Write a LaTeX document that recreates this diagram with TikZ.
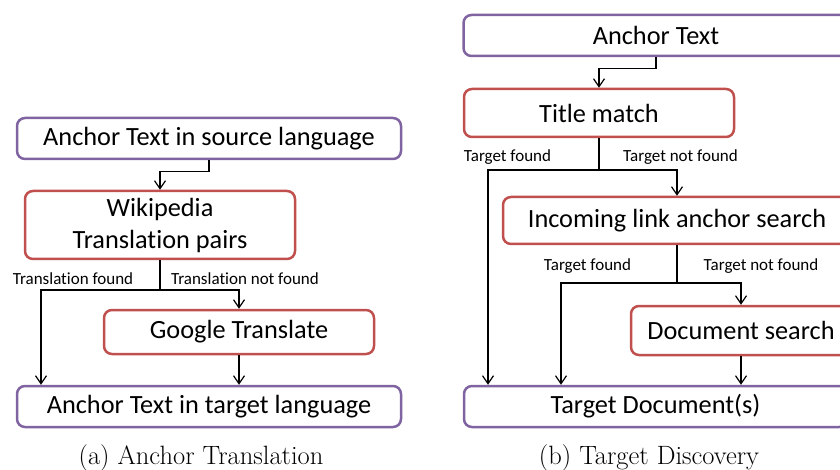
\documentclass[tikz,border=0pt]{standalone}
\usepackage{fontspec}
\newfontfamily\boxfont[Ligatures=NoCommon]{Carlito}
\usetikzlibrary{arrows.meta}
\definecolor{boxpurple}{HTML}{8064A2}
\definecolor{boxred}{HTML}{C0504D}
\begin{document}
\begin{tikzpicture}[x=1pt,y=-1pt,
  box/.style={draw, rounded corners=8pt, line width=2.5pt, inner sep=0pt,
    align=center, font=\boxfont\fontsize{26.3}{32}\selectfont},
  purplebox/.style={box, draw=boxpurple},
  redbox/.style={box, draw=boxred},
  lbl/.style={inner sep=0pt, font=\boxfont\fontsize{17}{20}\selectfont},
  captext/.style={inner sep=0pt, font=\fontsize{26.5}{30}\selectfont},
  link/.style={line width=1.2pt, -{Straight Barb[length=8pt,width=11pt]}},
  plain/.style={line width=1.2pt}]
\useasboundingbox (0,0) rectangle (840,470);
\clip (0,0) rectangle (840,470);

% ---- (a) anchor translation ----
\node[purplebox, minimum width=384pt, minimum height=41pt] (src) at (209,138.5) {Anchor Text in source language};
\node[redbox, minimum width=270pt, minimum height=68pt] (wiki) at (160,225) {Wikipedia\\Translation pairs};
\node[redbox, minimum width=270pt, minimum height=44pt] (goog) at (239,332) {Google Translate};
\node[purplebox, minimum width=384pt, minimum height=41pt] (tgt) at (209,406.5) {Anchor Text in target language};

\coordinate (splitA) at (160,290);
\coordinate (dropA) at (41,0);
\draw[link] (src.south) -- ++(0,11) -| (wiki.north);
\draw[plain] (wiki.south) -- (splitA);
\draw[link] (splitA) -| (tgt.north -| dropA);
\draw[link] (splitA) -| (goog.north);
\draw[link] (goog.south) -- (goog.south |- tgt.north);
\node[lbl] (fa) at (73,279) {Translation found};
\node[lbl] (nfa) at (245,279) {Translation not found};
\node[captext] (capa) at (201,458) {(a) Anchor Translation};

% ---- (b) target discovery ----
\node[purplebox, minimum width=385pt, minimum height=41pt] (anc) at (656,35.5) {Anchor Text};
\node[redbox, minimum width=270pt, minimum height=48pt] (title) at (599,113) {Title match};
\node[redbox, minimum width=348pt, minimum height=47pt] (inc) at (677,220.5) {Incoming link anchor search};
\node[redbox, minimum width=220pt, minimum height=49pt] (doc) at (741,330.5) {Document search};
\node[purplebox, minimum width=383pt, minimum height=41pt] (tdoc) at (655.5,406.5) {Target Document(s)};

\coordinate (splitB) at (599,170);
\coordinate (dropB) at (488,0);
\coordinate (splitC) at (677,283);
\coordinate (dropC) at (561,0);
\draw[link] (anc.south) -- ++(0,11) -| (title.north);
\draw[plain] (title.south) -- (splitB);
\draw[link] (splitB) -| (tdoc.north -| dropB);
\draw[link] (splitB) -| (inc.north);
\draw[plain] (inc.south) -- (splitC);
\draw[link] (splitC) -| (tdoc.north -| dropC);
\draw[link] (splitC) -| (doc.north);
\draw[link] (doc.south) -- (doc.south |- tdoc.north);
\node[lbl] (fb1) at (507.5,157) {Target found};
\node[lbl] (nfb1) at (680.5,157) {Target not found};
\node[lbl] (fb2) at (587.5,266) {Target found};
\node[lbl] (nfb2) at (761,266) {Target not found};
\node[captext] (capb) at (649,458) {(b) Target Discovery};
\end{tikzpicture}
\end{document}
